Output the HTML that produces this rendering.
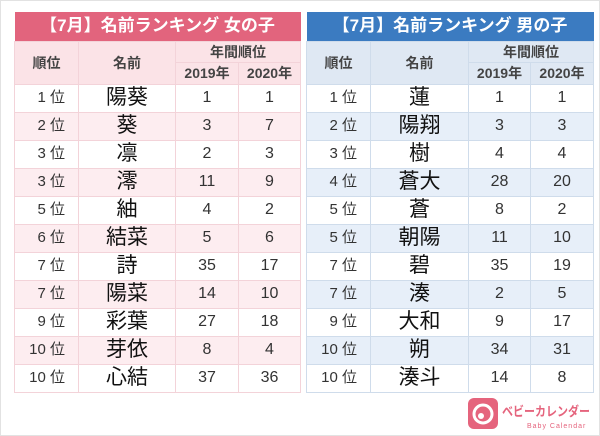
<!DOCTYPE html>
<html><head><meta charset="utf-8"><style>
html,body{margin:0;padding:0;background:#fff}
body{width:600px;height:436px;position:relative;overflow:hidden;font-family:"Liberation Sans","Noto Sans CJK JP",sans-serif;}
.frame{position:absolute;left:0;top:0;width:598px;height:434px;border:1px solid #e2e2e2}
table{position:absolute;top:12px;border-collapse:collapse;table-layout:fixed}
td{padding:0;text-align:center;color:#333;font-size:16px;line-height:18px;border:1px solid;box-sizing:border-box}
tr.row{height:28px}
tr.title{height:29px}
tr.hd1{height:21px}tr.hd2{height:22px}
.title td{color:#fff;font-weight:bold;font-size:17px;border:none}
.hd td{font-weight:bold;font-size:14px;color:#444}
.rk{text-align:right;padding-right:13px;font-size:15px;color:#333}
.nm{font-size:21px;color:#111;line-height:22px}
#girls{left:14px}#boys{left:306px}
#girls td{border-color:#f3d3d9}#girls .title td{background:#e2647d}#girls .hd td{background:#fbe3e7}#girls tr.alt td{background:#fdedf0}
#boys td{border-color:#cfdceb}#boys .title td{background:#3b7bc1}#boys .hd td{background:#dfe8f3}#boys tr.alt td{background:#e7eff9}
.logo{position:absolute;left:467px;top:396px;width:126px;height:36px}
</style></head><body>
<div class="frame"></div>
<table id="girls">
<colgroup><col style="width:64px"><col style="width:97px"><col style="width:63px"><col style="width:62px"></colgroup>
<tr class="title"><td colspan="4">【7月】名前ランキング 女の子</td></tr>
<tr class="hd hd1"><td rowspan="2">順位</td><td rowspan="2">名前</td><td colspan="2">年間順位</td></tr>
<tr class="hd hd2"><td>2019年</td><td>2020年</td></tr>
<tbody id="gb"></tbody></table>
<table id="boys">
<colgroup><col style="width:64px"><col style="width:98px"><col style="width:62px"><col style="width:63px"></colgroup>
<tr class="title"><td colspan="4">【7月】名前ランキング 男の子</td></tr>
<tr class="hd hd1"><td rowspan="2">順位</td><td rowspan="2">名前</td><td colspan="2">年間順位</td></tr>
<tr class="hd hd2"><td>2019年</td><td>2020年</td></tr>
<tbody id="bb"></tbody></table>
<svg class="logo" viewBox="0 0 126 36">
<rect x="1" y="2" width="30" height="31" rx="6" fill="#e5647d"/>
<circle cx="16" cy="18" r="9" fill="none" stroke="#fff" stroke-width="3"/>
<circle cx="14" cy="20" r="3" fill="#fff"/>
<text x="35" y="20" font-size="13" font-weight="bold" fill="#e5647d" font-family="Noto Sans CJK JP,sans-serif" textLength="88" lengthAdjust="spacingAndGlyphs">ベビーカレンダー</text>
<text x="60" y="32" font-size="7" fill="#e5647d" font-family="Liberation Sans,sans-serif" letter-spacing="1">Baby Calendar</text>
</svg>
<script>
const girlRanks=["1","2","3","3","5","6","7","7","9","10","10"];
const girlNames=["陽葵","葵","凛","澪","紬","結菜","詩","陽菜","彩葉","芽依","心結"];
const girl2019=[1,3,2,11,4,5,35,14,27,8,37];
const girl2020=[1,7,3,9,2,6,17,10,18,4,36];
const boyRanks=["1","2","3","4","5","5","7","7","9","10","10"];
const boyNames=["蓮","陽翔","樹","蒼大","蒼","朝陽","碧","湊","大和","朔","湊斗"];
const boy2019=[1,3,4,28,8,11,35,2,9,34,14];
const boy2020=[1,3,4,20,2,10,19,5,17,31,8];
function fill(id,r,n,a,b){
  const tb=document.getElementById(id);
  for(let i=0;i<r.length;i++){
    const tr=document.createElement('tr');
    
    
    tr.className=(i%2===1)?'row alt':'row';
    const cells=[[r[i]+' 位','rk','rank-cell'],[n[i],'nm','name-cell'],[a[i],'','rank-2019-cell'],[b[i],'','rank-2020-cell']];
    for(const c of cells){
      const td=document.createElement('td');
      td.textContent=c[0];
      if(c[1])td.className=c[1];
      
      
      tr.appendChild(td);
    }
    tb.appendChild(tr);
  }
}
fill('gb',girlRanks,girlNames,girl2019,girl2020);
fill('bb',boyRanks,boyNames,boy2019,boy2020);
</script>
</body></html>
